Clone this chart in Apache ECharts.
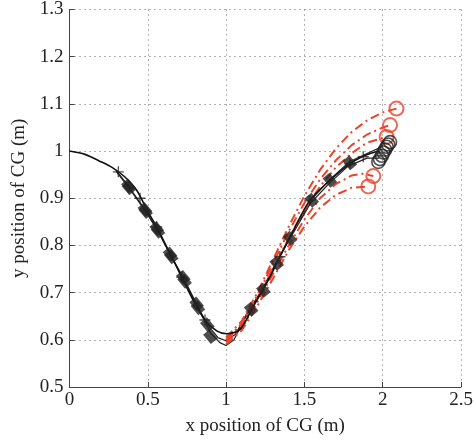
<!DOCTYPE html>
<html><head><meta charset="utf-8">
<script src="https://cdn.jsdelivr.net/npm/echarts@6/dist/echarts.min.js"></script>
<style>html,body{margin:0;padding:0;background:#fff}#c{width:476px;height:441px}</style>
</head><body><div id="c"></div>
<script>
// nominal trajectory (black solid)
const nominalX = [0, 0.099, 0.184, 0.269, 0.354, 0.429, 0.5, 0.557, 0.642, 0.716, 0.79, 0.865, 0.94, 1.004, 1.089, 1.174, 1.259, 1.344, 1.429, 1.536, 1.663, 1.79, 1.898, 1.98];
const nominalY = [1.0, 0.993, 0.98, 0.966, 0.945, 0.917, 0.872, 0.839, 0.783, 0.733, 0.684, 0.642, 0.619, 0.613, 0.622, 0.671, 0.72, 0.776, 0.832, 0.896, 0.938, 0.973, 0.992, 1.0];
// perturbed black trajectories
const blackAX = [0.3, 0.376, 0.482, 0.557, 0.642, 0.727, 0.812, 0.88, 0.95, 1.0, 1.06, 1.14, 1.238, 1.323, 1.408, 1.547, 1.663, 1.79, 1.9, 2.0];
const blackAY = [0.958, 0.926, 0.876, 0.836, 0.782, 0.732, 0.676, 0.632, 0.604, 0.598, 0.612, 0.66, 0.71, 0.765, 0.818, 0.898, 0.94, 0.978, 0.995, 1.01];
const blackBX = [0.3, 0.38, 0.486, 0.565, 0.65, 0.735, 0.82, 0.9, 0.96, 1.0, 1.05, 1.12, 1.22, 1.31, 1.4, 1.54, 1.66, 1.78, 1.9, 1.98];
const blackBY = [0.956, 0.922, 0.872, 0.83, 0.776, 0.724, 0.668, 0.615, 0.594, 0.588, 0.6, 0.645, 0.7, 0.758, 0.81, 0.89, 0.932, 0.968, 0.985, 0.985];
// square markers on the perturbed runs
const squareX = [0.376, 0.482, 0.557, 0.642, 0.727, 0.812, 0.88, 0.9, 0.38, 0.486, 0.565, 0.65, 0.735, 0.82, 1.238, 1.323, 1.408, 1.547, 1.663, 1.79, 1.16];
const squareY = [0.926, 0.876, 0.836, 0.782, 0.732, 0.676, 0.632, 0.607, 0.922, 0.872, 0.83, 0.776, 0.724, 0.668, 0.705, 0.762, 0.815, 0.896, 0.938, 0.975, 0.665];
// plus markers on the nominal run
const plusX = [0.312, 0.45, 0.557, 0.716, 0.865, 1.344, 1.536, 1.79, 1.876];
const plusY = [0.956, 0.9, 0.839, 0.733, 0.642, 0.776, 0.896, 0.973, 0.988];
// black end circles
const endBlackX = [1.972, 1.982, 1.995, 2.005, 2.015, 2.025, 2.035, 2.047];
const endBlackY = [0.977, 0.983, 0.99, 0.997, 1.003, 1.009, 1.014, 1.019];
// red dash-dot trajectories
const red1X = [1.0, 1.1, 1.2, 1.3, 1.4, 1.5, 1.6, 1.7, 1.8, 1.9, 2.0, 2.088];
const red1Y = [0.605, 0.64, 0.7, 0.77, 0.84, 0.905, 0.96, 1.005, 1.04, 1.065, 1.082, 1.09];
const red2X = [1.0, 1.1, 1.2, 1.3, 1.4, 1.5, 1.6, 1.7, 1.8, 1.9, 2.0, 2.047];
const red2Y = [0.6, 0.635, 0.695, 0.762, 0.83, 0.89, 0.94, 0.98, 1.012, 1.035, 1.05, 1.055];
const red3X = [1.0, 1.1, 1.2, 1.3, 1.4, 1.5, 1.6, 1.7, 1.8, 1.9, 2.025];
const red3Y = [0.6, 0.63, 0.688, 0.752, 0.815, 0.875, 0.925, 0.965, 0.995, 1.018, 1.03];
const red4X = [1.0, 1.1, 1.2, 1.3, 1.4, 1.5, 1.6, 1.7, 1.8, 1.87, 1.94];
const red4Y = [0.595, 0.625, 0.68, 0.74, 0.8, 0.855, 0.9, 0.93, 0.948, 0.952, 0.947];
const red5X = [1.0, 1.1, 1.2, 1.3, 1.4, 1.5, 1.6, 1.7, 1.8, 1.908];
const red5Y = [0.59, 0.62, 0.672, 0.73, 0.79, 0.84, 0.88, 0.907, 0.922, 0.925];

const xTicks = [0, 0.5, 1, 1.5, 2, 2.5];
const yTicks = [0.5, 0.6, 0.7, 0.8, 0.9, 1, 1.1, 1.2, 1.3];

const zip = (a, b) => a.map((v, i) => [v, b[i]]);
const FONT = 'Liberation Serif';
const RED = '#e8442c';
const redSets = [[red1X, red1Y], [red2X, red2Y], [red3X, red3Y], [red4X, red4Y], [red5X, red5Y]];

const series = [];
series.push({type: 'line', data: zip(blackBX, blackBY), showSymbol: false, lineStyle: {color: '#222', width: 1.2}, z: 3});
series.push({type: 'line', data: zip(blackAX, blackAY), showSymbol: false, lineStyle: {color: '#222', width: 1.2}, z: 3});
redSets.forEach(([x, y]) => {
  series.push({type: 'line', data: zip(x, y), showSymbol: false,
    lineStyle: {color: RED, width: 2, type: [9, 4, 2, 4]}, z: 4});
  series.push({type: 'scatter', data: [[x[x.length - 1], y[y.length - 1]]], symbol: 'circle', symbolSize: 14,
    itemStyle: {color: 'rgba(0,0,0,0)', borderColor: RED, borderWidth: 2}, z: 6});
});
series.push({type: 'line', data: zip(nominalX, nominalY), showSymbol: false, smooth: 0.3, lineStyle: {color: '#111', width: 1.6}, z: 5});
series.push({type: 'scatter', data: zip(squareX, squareY), symbol: 'rect', symbolSize: [12, 9], symbolRotate: -50,
  itemStyle: {color: '#222'}, z: 5});
series.push({type: 'scatter', data: zip(plusX, plusY), symbol: 'path://M0,4.4H10V5.6H0ZM4.4,0H5.6V10H4.4Z', symbolSize: 11,
  itemStyle: {color: '#222'}, z: 6});
series.push({type: 'scatter', data: zip(endBlackX, endBlackY), symbol: 'circle', symbolSize: 13,
  itemStyle: {color: 'rgba(0,0,0,0)', borderColor: '#222', borderWidth: 1.6}, z: 7});

const axisCommon = {
  axisLine: {show: true, lineStyle: {color: '#444', width: 1}},
  axisTick: {show: true, inside: true, length: 5, lineStyle: {color: '#444'}},
  axisLabel: {color: '#222', fontFamily: FONT, fontSize: 19},
  splitLine: {show: true, lineStyle: {color: '#666', type: [1, 4], width: 1}},
  nameTextStyle: {color: '#222', fontFamily: FONT, fontSize: 19},
  nameLocation: 'middle'
};

const chart = echarts.init(document.getElementById('c'), null, {renderer: 'canvas'});
chart.setOption({
  animation: false,
  backgroundColor: '#fff',
  grid: {left: 69.5, right: 15, top: 9, bottom: 54, containLabel: false},
  xAxis: Object.assign({}, axisCommon, {type: 'value', min: xTicks[0], max: xTicks[xTicks.length - 1], interval: 0.5,
    name: 'x position of CG (m)', nameGap: 30,
    axisLabel: Object.assign({}, axisCommon.axisLabel, {margin: 4, formatter: v => String(+v.toFixed(1))})}),
  yAxis: Object.assign({}, axisCommon, {type: 'value', min: yTicks[0], max: yTicks[yTicks.length - 1], interval: 0.1,
    name: 'y position of CG (m)', nameGap: 31,
    axisLabel: Object.assign({}, axisCommon.axisLabel, {margin: 6, formatter: v => String(+v.toFixed(1))})}),
  series: series
});
</script></body></html>
